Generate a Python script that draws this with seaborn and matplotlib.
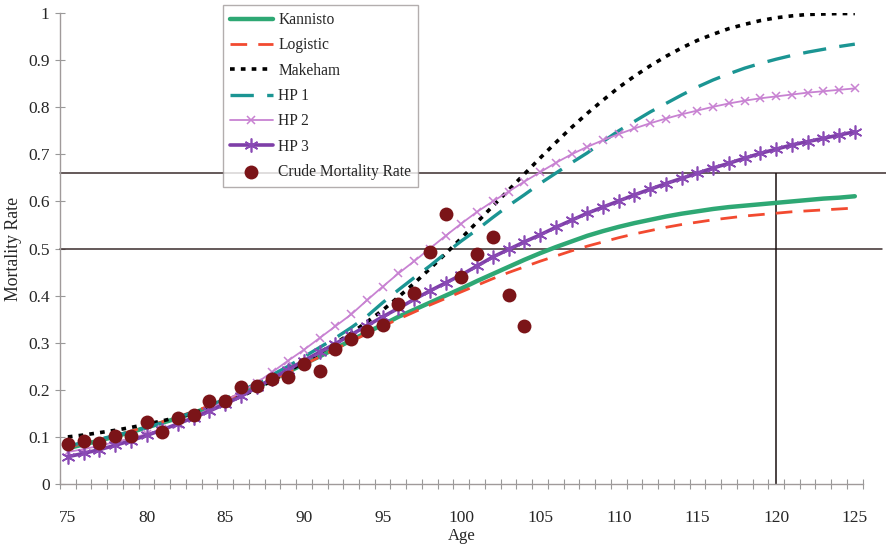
import numpy as np
import pandas as pd
import matplotlib
matplotlib.use("Agg")
import matplotlib.pyplot as plt
import seaborn as sns

ages = list(range(75, 126))

kannisto = [0.076, 0.084, 0.092, 0.101, 0.110, 0.120, 0.130, 0.140, 0.151, 0.163,
            0.175, 0.190, 0.205, 0.221, 0.238, 0.255, 0.271, 0.288, 0.305, 0.322,
            0.338, 0.355, 0.370, 0.385, 0.400, 0.415, 0.431, 0.446, 0.461, 0.476,
            0.490, 0.503, 0.515, 0.527, 0.537, 0.546, 0.554, 0.561, 0.568, 0.574,
            0.579, 0.584, 0.588, 0.591, 0.594, 0.597, 0.600, 0.603, 0.606, 0.608,
            0.611]
logistic = [0.078, 0.086, 0.094, 0.103, 0.112, 0.122, 0.132, 0.143, 0.154, 0.166,
            0.178, 0.192, 0.206, 0.221, 0.237, 0.253, 0.270, 0.286, 0.303, 0.319,
            0.335, 0.350, 0.365, 0.380, 0.394, 0.408, 0.422, 0.436, 0.449, 0.461,
            0.473, 0.484, 0.495, 0.505, 0.514, 0.523, 0.531, 0.538, 0.545, 0.551,
            0.556, 0.561, 0.565, 0.569, 0.572, 0.575, 0.578, 0.580, 0.582, 0.584,
            0.586]
makeham = [0.100, 0.104, 0.109, 0.114, 0.120, 0.127, 0.134, 0.142, 0.151, 0.161,
           0.172, 0.186, 0.202, 0.220, 0.239, 0.259, 0.279, 0.299, 0.320, 0.344,
           0.369, 0.397, 0.426, 0.457, 0.489, 0.522, 0.556, 0.590, 0.624, 0.658,
           0.692, 0.725, 0.757, 0.787, 0.815, 0.842, 0.866, 0.888, 0.908, 0.926,
           0.942, 0.955, 0.967, 0.976, 0.984, 0.990, 0.994, 0.997, 0.998, 0.999,
           0.999]
hp1 = [0.081, 0.088, 0.095, 0.103, 0.111, 0.120, 0.130, 0.141, 0.153, 0.166,
       0.181, 0.197, 0.214, 0.232, 0.250, 0.270, 0.290, 0.310, 0.332, 0.356,
       0.385, 0.412, 0.438, 0.463, 0.490, 0.516, 0.540, 0.566, 0.591, 0.614,
       0.638, 0.660, 0.682, 0.703, 0.727, 0.750, 0.770, 0.790, 0.808, 0.826,
       0.843, 0.858, 0.871, 0.883, 0.893, 0.902, 0.910, 0.917, 0.923, 0.929,
       0.934]
hp2 = [0.068, 0.074, 0.081, 0.089, 0.097, 0.106, 0.116, 0.128, 0.143, 0.159,
       0.177, 0.195, 0.215, 0.238, 0.262, 0.285, 0.310, 0.335, 0.360, 0.390,
       0.419, 0.447, 0.473, 0.500, 0.527, 0.553, 0.578, 0.600, 0.621, 0.642,
       0.662, 0.682, 0.700, 0.716, 0.730, 0.743, 0.755, 0.766, 0.776, 0.785,
       0.793, 0.801, 0.808, 0.814, 0.819, 0.823, 0.827, 0.831, 0.834, 0.837,
       0.840]
hp3 = [0.058, 0.065, 0.073, 0.082, 0.092, 0.103, 0.115, 0.128, 0.141, 0.155,
       0.170, 0.186, 0.205, 0.224, 0.243, 0.262, 0.280, 0.298, 0.317, 0.336,
       0.355, 0.373, 0.392, 0.410, 0.427, 0.444, 0.463, 0.482, 0.498, 0.514,
       0.529, 0.545, 0.560, 0.575, 0.588, 0.601, 0.614, 0.626, 0.638, 0.649,
       0.660, 0.671, 0.681, 0.692, 0.702, 0.711, 0.720, 0.727, 0.734, 0.741,
       0.748]

crude_ages = list(range(75, 105))
crude = [0.084, 0.091, 0.088, 0.102, 0.102, 0.131, 0.111, 0.140, 0.147, 0.177,
         0.177, 0.206, 0.208, 0.224, 0.228, 0.255, 0.241, 0.286, 0.307, 0.325,
         0.338, 0.383, 0.406, 0.492, 0.573, 0.439, 0.488, 0.525, 0.401, 0.335]

x_ticks = [75, 80, 85, 90, 95, 100, 105, 110, 115, 120, 125]
y_ticks = [0, 0.1, 0.2, 0.3, 0.4, 0.5, 0.6, 0.7, 0.8, 0.9, 1]
y_tick_labels = ["0", "0.1", "0.2", "0.3", "0.4", "0.5", "0.6", "0.7", "0.8", "0.9", "1"]

sns.set_theme(style="white")
plt.rcParams["font.family"] = ["Liberation Serif", "DejaVu Serif"]

fig = plt.figure(figsize=(8.87, 5.44), dpi=100)
ax = fig.add_axes([0.0676, 0.1103, 0.905, 0.8657])

sns.lineplot(x=ages, y=kannisto, ax=ax, color="#2ea874", linewidth=3.2,
             label="Kannisto")
sns.lineplot(x=ages, y=logistic, ax=ax, color="#f24a30", linewidth=2.0,
             linestyle=(0, (6, 4)), label="Logistic")
sns.lineplot(x=ages, y=makeham, ax=ax, color="black", linewidth=2.6,
             linestyle=(0, (1.3, 1.7)), label="Makeham")
sns.lineplot(x=ages, y=hp1, ax=ax, color="#1b9593", linewidth=2.4,
             linestyle=(0, (7, 4)), label="HP 1")
sns.lineplot(x=ages, y=hp2, ax=ax, color="#c882d2", linewidth=1.3,
             marker="x", markersize=6, markeredgewidth=1.1,
             markeredgecolor="#c882d2", label="HP 2")
sns.lineplot(x=ages, y=hp3, ax=ax, color="#7e3fa8", linewidth=2.6,
             marker=(6, 2, 0), markersize=10, markeredgewidth=1.2,
             markeredgecolor="#8a4ab5", label="HP 3")
sns.scatterplot(x=crude_ages, y=crude, ax=ax, color="#7b1418", s=100,
                linewidth=0, zorder=5, label="Crude Mortality Rate")

# reference lines
ax.axhline(0.66, xmin=0, xmax=1.031, color="#3a2c2c", linewidth=1.1,
           clip_on=False, zorder=1)
ax.axhline(0.5, xmin=0, xmax=1.024, color="#3a2c2c", linewidth=1.1,
           clip_on=False, zorder=1)
ax.vlines(120, 0, 0.66, color="#1a1010", linewidth=1.1, zorder=1)

ax.set_xlim(74.5, 125.5)
ax.set_ylim(0, 1)
ax.set_xticks(x_ticks)
ax.set_xticks(np.arange(74.5, 126, 1), minor=True)
ax.set_yticks(y_ticks)
ax.set_yticklabels(y_tick_labels)
ax.tick_params(axis="x", which="major", length=0, pad=19, labelsize=12.5)
ax.tick_params(axis="x", which="minor", direction="inout", length=7,
               width=0.8, color="#999999", bottom=True)
ax.tick_params(axis="y", which="major", direction="inout", length=7,
               width=0.8, color="#999999", left=True, pad=4, labelsize=12.5)

for side in ["top", "right"]:
    ax.spines[side].set_visible(False)
for side in ["left", "bottom"]:
    ax.spines[side].set_color("#a09a9a")
    ax.spines[side].set_linewidth(1.0)

ax.set_xlabel("Age", fontsize=12, labelpad=1)
ax.set_ylabel("Mortality Rate", fontsize=12.8, labelpad=4)

leg = ax.legend(loc="upper left", bbox_to_anchor=(0.2514, 0.9908),
                bbox_transform=fig.transFigure, borderaxespad=0,
                fontsize=11.2, handlelength=2.75, numpoints=1,
                fancybox=False, frameon=True, labelspacing=0.6,
                borderpad=0.45, handletextpad=0.35)
leg.get_frame().set_edgecolor("#a09a9a")
leg.get_frame().set_linewidth(1.0)

fig.savefig("out.png", dpi=100)
